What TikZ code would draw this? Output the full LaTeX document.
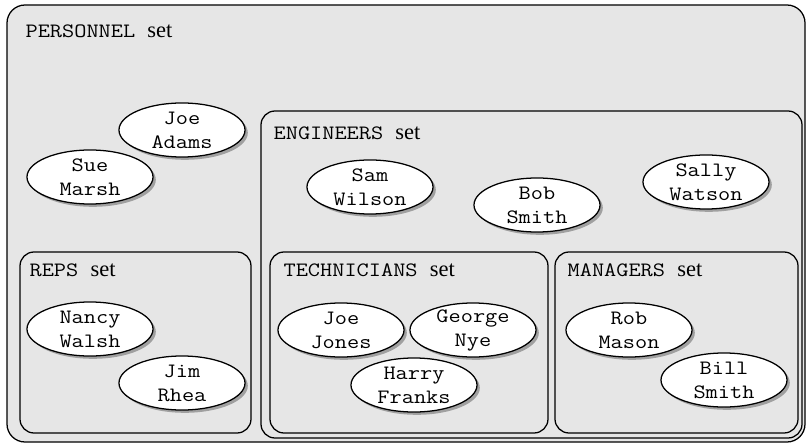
\documentclass[tikz,border=0pt]{standalone}
\usepackage{fontspec}
\setmainfont{Liberation Serif}
\setmonofont[FakeStretch=1.16]{Latin Modern Mono}
\usetikzlibrary{shapes.geometric,shadows}
\definecolor{setgray}{HTML}{E6E6E6}
\begin{document}
\begin{tikzpicture}[x=0.025cm,y=-0.025cm,line width=0.9pt,
  setbox/.style={draw,fill=setgray,rounded corners=0.35cm},
  setname/.style={anchor=base west,inner sep=0pt,font=\fontsize{16}{17.1}\selectfont},
  person/.style={ellipse,draw,fill=white,inner xsep=0pt,inner ysep=-6pt,
    minimum width=3.15cm,minimum height=1.35cm,align=center,
    font=\fontsize{14.5}{17.1}\selectfont\ttfamily,
    drop shadow={shadow xshift=0.07cm,shadow yshift=-0.07cm,fill=black,opacity=0.3}}]
\useasboundingbox (0,0) rectangle (807,445);
\draw[setbox,rounded corners=0.45cm] (7,5) rectangle (805,442);
\draw[setbox] (261,111) rectangle (802,438);
\draw[setbox] (20,252) rectangle (251,433);
\draw[setbox] (270,252) rectangle (548,433);
\draw[setbox] (555,252) rectangle (798,433);
\node[setname] (personnel) at (25,38) {{\fontsize{14.5}{17.1}\ttfamily PERSONNEL }set};
\node[setname] (engineers) at (273,140) {{\fontsize{14.5}{17.1}\ttfamily ENGINEERS }set};
\node[setname] (reps) at (29,276) {{\fontsize{14.5}{17.1}\ttfamily REPS }set};
\node[setname] (technicians) at (283,276) {{\fontsize{14.5}{17.1}\ttfamily TECHNICIANS }set};
\node[setname] (managers) at (567,276) {{\fontsize{14.5}{17.1}\ttfamily MANAGERS }set};
\node[person] (joeadams) at (182,130) {Joe\\Adams};
\node[person] (suemarsh) at (90,177) {Sue\\Marsh};
\node[person] (samwilson) at (370,187) {Sam\\Wilson};
\node[person] (bobsmith) at (537,205) {Bob\\Smith};
\node[person] (sallywatson) at (706,182) {Sally\\Watson};
\node[person] (nancywalsh) at (90,329) {Nancy\\Walsh};
\node[person] (jimrhea) at (182,383) {Jim\\Rhea};
\node[person] (joejones) at (341,330) {Joe\\Jones};
\node[person] (georgenye) at (473,330) {George\\Nye};
\node[person] (harryfranks) at (414,385) {Harry\\Franks};
\node[person] (robmason) at (629,330) {Rob\\Mason};
\node[person] (billsmith) at (724,380) {Bill\\Smith};
\end{tikzpicture}
\end{document}
